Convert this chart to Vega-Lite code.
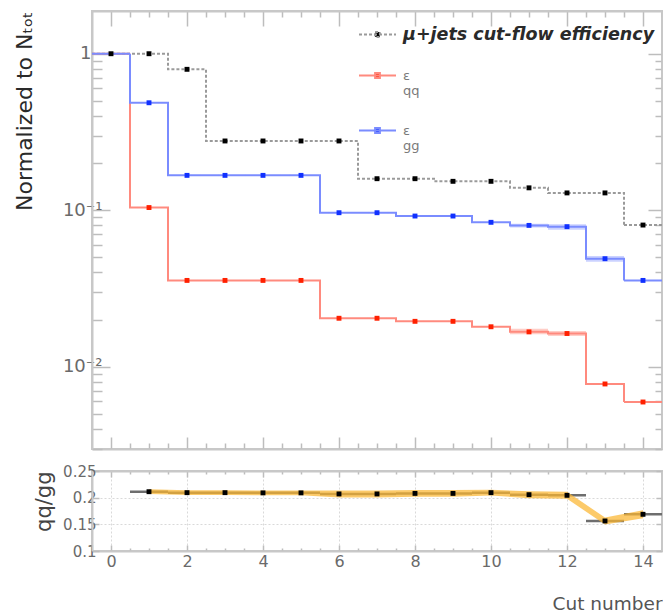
{
  "$schema": "https://vega.github.io/schema/vega-lite/v6.json",
  "padding": {"left": 12, "top": 9, "right": 0, "bottom": 0},
  "bounds": "flush",
  "spacing": 22,
  "config": {
    "font": "DejaVu Sans",
    "view": {"stroke": "#c8c8c8", "strokeWidth": 2},
    "axis": {
      "domainColor": "#c8c8c8", "domainWidth": 2,
      "tickColor": "#bdbdbd", "tickWidth": 1.5,
      "labelColor": "#6a6a6a", "labelFont": "DejaVu Sans",
      "titleFont": "DejaVu Sans", "titleFontWeight": "normal",
      "labelOverlap": false, "labelBound": false, "labelFlush": false, "grid": false
    }
  },
  "datasets": {
    "eff": [
      {"cut": 0, "s": "mu", "v": 1},
      {"cut": 1, "s": "mu", "v": 1},
      {"cut": 2, "s": "mu", "v": 0.795},
      {"cut": 3, "s": "mu", "v": 0.277},
      {"cut": 4, "s": "mu", "v": 0.277},
      {"cut": 5, "s": "mu", "v": 0.277},
      {"cut": 6, "s": "mu", "v": 0.277},
      {"cut": 7, "s": "mu", "v": 0.159},
      {"cut": 8, "s": "mu", "v": 0.159},
      {"cut": 9, "s": "mu", "v": 0.153},
      {"cut": 10, "s": "mu", "v": 0.153},
      {"cut": 11, "s": "mu", "v": 0.139},
      {"cut": 12, "s": "mu", "v": 0.129},
      {"cut": 13, "s": "mu", "v": 0.129},
      {"cut": 14, "s": "mu", "v": 0.0804},
      {"cut": 0, "s": "qq", "v": 1},
      {"cut": 1, "s": "qq", "v": 0.104},
      {"cut": 2, "s": "qq", "v": 0.0356},
      {"cut": 3, "s": "qq", "v": 0.0356},
      {"cut": 4, "s": "qq", "v": 0.0356},
      {"cut": 5, "s": "qq", "v": 0.0356},
      {"cut": 6, "s": "qq", "v": 0.0204},
      {"cut": 7, "s": "qq", "v": 0.0204},
      {"cut": 8, "s": "qq", "v": 0.0195},
      {"cut": 9, "s": "qq", "v": 0.0195},
      {"cut": 10, "s": "qq", "v": 0.018},
      {"cut": 11, "s": "qq", "v": 0.0167, "lo": 0.0161, "hi": 0.0175},
      {"cut": 12, "s": "qq", "v": 0.0163, "lo": 0.0157, "hi": 0.0169},
      {"cut": 13, "s": "qq", "v": 0.00776},
      {"cut": 14, "s": "qq", "v": 0.00595},
      {"cut": 0, "s": "gg", "v": 1},
      {"cut": 1, "s": "gg", "v": 0.486},
      {"cut": 2, "s": "gg", "v": 0.167},
      {"cut": 3, "s": "gg", "v": 0.167},
      {"cut": 4, "s": "gg", "v": 0.167},
      {"cut": 5, "s": "gg", "v": 0.167},
      {"cut": 6, "s": "gg", "v": 0.0964},
      {"cut": 7, "s": "gg", "v": 0.0964},
      {"cut": 8, "s": "gg", "v": 0.0918},
      {"cut": 9, "s": "gg", "v": 0.0918},
      {"cut": 10, "s": "gg", "v": 0.0837},
      {"cut": 11, "s": "gg", "v": 0.080, "lo": 0.0775, "hi": 0.0820},
      {"cut": 12, "s": "gg", "v": 0.0785, "lo": 0.0750, "hi": 0.0813},
      {"cut": 13, "s": "gg", "v": 0.049, "lo": 0.0469, "hi": 0.0510},
      {"cut": 14, "s": "gg", "v": 0.0356}
    ],
    "ratio": [
      {"cut": 1, "r": 0.2112, "e": 0.0045},
      {"cut": 2, "r": 0.2094, "e": 0.0045},
      {"cut": 3, "r": 0.2094, "e": 0.0045},
      {"cut": 4, "r": 0.209, "e": 0.0045},
      {"cut": 5, "r": 0.209, "e": 0.0045},
      {"cut": 6, "r": 0.207, "e": 0.0065},
      {"cut": 7, "r": 0.207, "e": 0.0065},
      {"cut": 8, "r": 0.208, "e": 0.0065},
      {"cut": 9, "r": 0.208, "e": 0.0065},
      {"cut": 10, "r": 0.2094, "e": 0.0055},
      {"cut": 11, "r": 0.2056, "e": 0.0065},
      {"cut": 12, "r": 0.2044, "e": 0.0065},
      {"cut": 13, "r": 0.1563, "e": 0.0065},
      {"cut": 14, "r": 0.1688, "e": 0.0075}
    ]
  },
  "vconcat": [
    {
      "width": 570,
      "height": 438,
      "data": {"name": "eff"},
      "transform": [
        {"bin": {"step": 1, "extent": [-0.5, 14.5], "nice": false}, "field": "cut", "as": ["b0", "b1"]}
      ],
      "layer": [
        {
          "transform": [{"filter": "isValid(datum.lo)"}],
          "mark": {"type": "rect", "opacity": 0.22},
          "encoding": {
            "x": {"field": "b0", "type": "quantitative", "axis": null},
            "x2": {"field": "b1"},
            "y": {"field": "lo", "type": "quantitative", "axis": null},
            "y2": {"field": "hi"},
            "fill": {"field": "s", "type": "nominal", "legend": null,
              "scale": {"range": ["#1030ff", "#000000", "#ff2000"]}}
          }
        },
        {
          "mark": {"type": "line", "interpolate": "step-after", "strokeWidth": 2},
          "encoding": {
            "x": {"field": "b0", "type": "quantitative",
              "scale": {"domain": [-0.5, 14.5], "nice": false, "zero": false},
              "axis": {
                "orient": "bottom", "title": null, "labels": false,
                "values": [0, 0.5, 1, 1.5, 2, 2.5, 3, 3.5, 4, 4.5, 5, 5.5, 6, 6.5, 7, 7.5, 8, 8.5, 9, 9.5, 10, 10.5, 11, 11.5, 12, 12.5, 13, 13.5, 14, 14.5],
                "tickSize": {"condition": {"test": "datum.value % 2 == 0", "value": -12}, "value": -6}
              }
            },
            "y": {"field": "v", "type": "quantitative",
              "scale": {"type": "log", "domain": [0.00298, 1.875], "nice": false},
              "axis": {
                "orient": "left",
                "title": "Normalized to Nₜₒₜ",
                "titleFontSize": 22, "titleColor": "#2a2a2a",
                "titleAnchor": "end", "titlePadding": 26,
                "values": [0.003, 0.004, 0.005, 0.006, 0.007, 0.008, 0.009, 0.01, 0.02, 0.03, 0.04, 0.05, 0.06, 0.07, 0.08, 0.09, 0.1, 0.2, 0.3, 0.4, 0.5, 0.6, 0.7, 0.8, 0.9, 1],
                "labelExpr": "datum.value == 1 ? '1' : datum.value == 0.1 ? '10⁻¹' : datum.value == 0.01 ? '10⁻²' : ''",
                "labelFontSize": 18,
                "labelPadding": {"condition": {"test": "datum.value == 1", "value": 19}, "value": 8},
                "tickSize": {"condition": {"test": "datum.value == 1 || datum.value == 0.1 || datum.value == 0.01", "value": -18}, "value": -10}
              }
            },
            "stroke": {"field": "s", "type": "nominal",
              "scale": {"domain": ["mu", "qq", "gg"], "range": ["#9a9a9a", "#ff8a7e", "#7a8cff"]},
              "legend": {
                "orient": "none", "legendX": 266, "legendY": 4, "title": null,
                "symbolType": "M-1,0H1M-0.13,-0.13H0.13V0.13H-0.13Z",
                "symbolSize": 1369, "symbolStrokeWidth": 2,
                "rowPadding": 13, "labelOffset": 6, "padding": 0,
                "labelFont": "DejaVu Sans", "labelFontSize": 13, "labelColor": "#7a7a7a", "labelLimit": 400,
                "labelExpr": "datum.value == 'mu' ? 'μ+jets cut-flow efficiency' : ['ε', '\u2002\u2002' + datum.value]",
                "encode": {
                  "symbols": {"update": {
                    "fill": {"signal": "datum.value == 'mu' ? '#000000' : datum.value == 'qq' ? '#ff2000' : '#1030ff'"},
                    "strokeDash": {"signal": "datum.value == 'mu' ? [3, 2] : [1, 0]"}
                  }},
                  "labels": {"update": {
                    "fontSize": {"signal": "datum.value == 'mu' ? 17.5 : 13"},
                    "fontWeight": {"signal": "datum.value == 'mu' ? 'bold' : 'normal'"},
                    "fontStyle": {"signal": "datum.value == 'mu' ? 'italic' : 'normal'"},
                    "fill": {"signal": "datum.value == 'mu' ? '#2a2a2a' : '#7a7a7a'"},
                    "lineHeight": {"value": 15}
                  }}
                }
              }
            },
            "strokeDash": {"field": "s", "type": "nominal", "legend": null,
              "scale": {"range": [[1, 0], [3, 2], [1, 0]]}}
          }
        },
        {
          "transform": [{"filter": "datum.cut == 14"}],
          "mark": {"type": "rule", "strokeWidth": 2},
          "encoding": {
            "x": {"field": "b0", "type": "quantitative", "axis": null},
            "x2": {"field": "b1"},
            "y": {"field": "v", "type": "quantitative", "axis": null},
            "stroke": {"field": "s", "type": "nominal"},
            "strokeDash": {"field": "s", "type": "nominal", "legend": null}
          }
        },
        {
          "transform": [{"filter": "datum.cut > 0 || datum.s == 'mu'"}],
          "mark": {"type": "square", "size": 24, "opacity": 1},
          "encoding": {
            "x": {"field": "cut", "type": "quantitative", "axis": null},
            "y": {"field": "v", "type": "quantitative", "axis": null},
            "fill": {"field": "s", "type": "nominal", "legend": null}
          }
        },
        {
          "mark": {"type": "point", "opacity": 0},
          "encoding": {
            "x": {"field": "cut", "type": "quantitative",
              "axis": {
                "orient": "top", "title": null, "labels": false,
                "values": [0, 0.5, 1, 1.5, 2, 2.5, 3, 3.5, 4, 4.5, 5, 5.5, 6, 6.5, 7, 7.5, 8, 8.5, 9, 9.5, 10, 10.5, 11, 11.5, 12, 12.5, 13, 13.5, 14, 14.5],
                "tickSize": {"condition": {"test": "datum.value % 2 == 0", "value": -15}, "value": -6}
              }
            },
            "y": {"field": "v", "type": "quantitative",
              "axis": {
                "orient": "right", "title": null, "labels": false,
                "values": [0.003, 0.004, 0.005, 0.006, 0.007, 0.008, 0.009, 0.01, 0.02, 0.03, 0.04, 0.05, 0.06, 0.07, 0.08, 0.09, 0.1, 0.2, 0.3, 0.4, 0.5, 0.6, 0.7, 0.8, 0.9, 1],
                "tickSize": {"condition": {"test": "datum.value == 1 || datum.value == 0.1 || datum.value == 0.01", "value": -14}, "value": -7}
              }
            }
          }
        }
      ],
      "resolve": {"axis": {"x": "independent", "y": "independent"}}
    },
    {
      "width": 570,
      "height": 80,
      "data": {"name": "ratio"},
      "transform": [
        {"bin": {"step": 1, "extent": [-0.5, 14.5], "nice": false}, "field": "cut", "as": ["b0", "b1"]}
      ],
      "layer": [
        {
          "mark": {"type": "rule", "color": "#6e6e6e", "strokeWidth": 2.5},
          "encoding": {
            "x": {"field": "b0", "type": "quantitative",
              "scale": {"domain": [-0.5, 14.5], "nice": false, "zero": false},
              "axis": {
                "orient": "bottom", "title": "Cut number",
                "titleFontSize": 18.5, "titleColor": "#555555",
                "titleAnchor": "end", "titlePadding": 22,
                "values": [0, 0.5, 1, 1.5, 2, 2.5, 3, 3.5, 4, 4.5, 5, 5.5, 6, 6.5, 7, 7.5, 8, 8.5, 9, 9.5, 10, 10.5, 11, 11.5, 12, 12.5, 13, 13.5, 14, 14.5],
                "format": "~g",
                "labelExpr": "datum.value % 2 == 0 ? datum.label : ''",
                "labelFontSize": 16, "labelPadding": 8,
                "tickSize": {"condition": {"test": "datum.value % 2 == 0", "value": -6}, "value": -3},
                "grid": true, "gridColor": "#d9d9d9", "gridDash": [2, 2], "gridWidth": 1,
                "gridOpacity": {"condition": {"test": "datum.value % 2 == 0", "value": 1}, "value": 0}
              }
            },
            "x2": {"field": "b1"},
            "y": {"field": "r", "type": "quantitative",
              "scale": {"domain": [0.1, 0.25], "nice": false, "zero": false},
              "axis": {
                "orient": "left", "title": "qq/gg",
                "titleFontSize": 21, "titleColor": "#444444",
                "titleAnchor": "end", "titlePadding": 8,
                "values": [0.1, 0.15, 0.2, 0.25], "format": "~g",
                "labelFontSize": 15, "labelPadding": 3,
                "tickSize": -7,
                "grid": true, "gridColor": "#d9d9d9", "gridDash": [2, 2], "gridWidth": 1
              }
            }
          }
        },
        {
          "mark": {"type": "errorband", "interpolate": "linear", "color": "#fbb530", "opacity": 0.72},
          "encoding": {
            "x": {"field": "cut", "type": "quantitative", "axis": null},
            "y": {"field": "r", "type": "quantitative", "axis": null},
            "yError": {"field": "e"}
          }
        },
        {
          "mark": {"type": "square", "size": 24, "color": "#000000", "opacity": 1},
          "encoding": {
            "x": {"field": "cut", "type": "quantitative", "axis": null},
            "y": {"field": "r", "type": "quantitative", "axis": null}
          }
        },
        {
          "mark": {"type": "point", "opacity": 0},
          "encoding": {
            "x": {"field": "cut", "type": "quantitative",
              "axis": {
                "orient": "top", "title": null, "labels": false,
                "values": [0, 0.5, 1, 1.5, 2, 2.5, 3, 3.5, 4, 4.5, 5, 5.5, 6, 6.5, 7, 7.5, 8, 8.5, 9, 9.5, 10, 10.5, 11, 11.5, 12, 12.5, 13, 13.5, 14, 14.5],
                "tickSize": {"condition": {"test": "datum.value % 2 == 0", "value": -6}, "value": -3}
              }
            },
            "y": {"field": "r", "type": "quantitative",
              "axis": {"orient": "right", "title": null, "labels": false, "values": [0.1, 0.15, 0.2, 0.25], "tickSize": -6}
            }
          }
        }
      ],
      "resolve": {"axis": {"x": "independent", "y": "independent"}}
    }
  ]
}
